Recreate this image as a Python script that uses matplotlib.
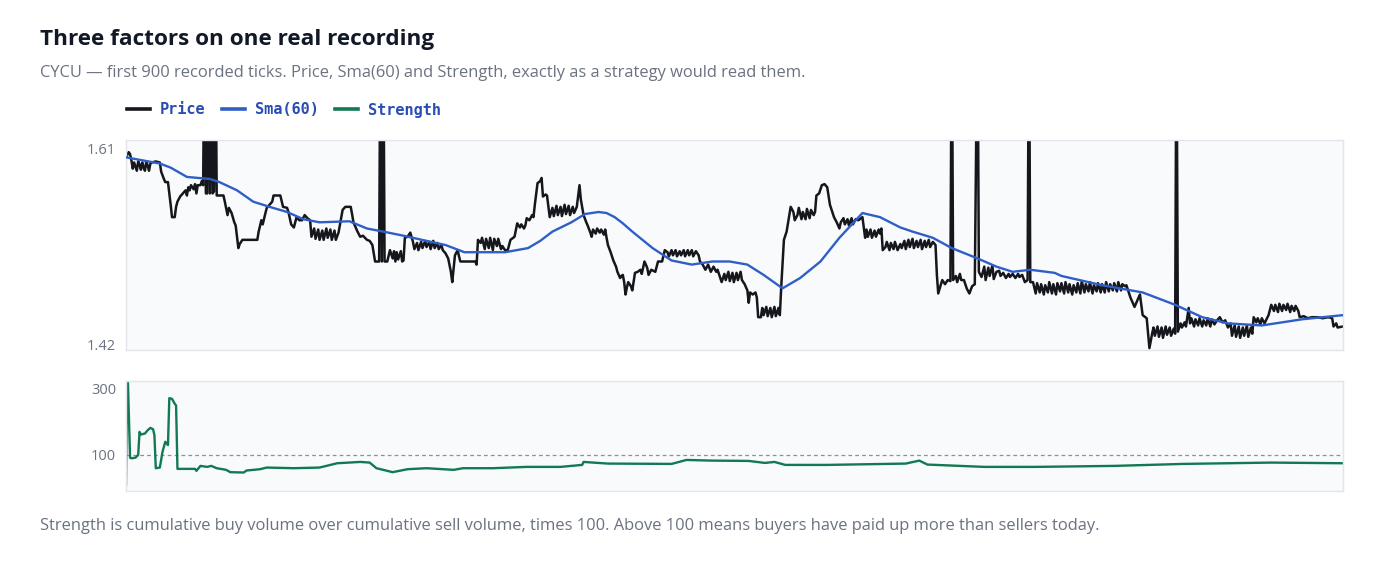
import matplotlib
matplotlib.use("Agg")
import matplotlib.pyplot as plt
from matplotlib.lines import Line2D

# price as (tick, value); 1.75 = spike that runs off the top
price_pts = [
    (0, 1.601), (2, 1.606), (3, 1.604), (4, 1.598), (5, 1.590), (6, 1.596), (7, 1.592), (8, 1.588),
    (9, 1.597), (10, 1.594), (11, 1.589), (12, 1.596), (13, 1.591), (14, 1.588), (15, 1.597),
    (16, 1.593), (17, 1.588), (18, 1.595), (19, 1.596), (22, 1.597), (25, 1.596),
    (26, 1.587), (28, 1.580), (29, 1.577), (31, 1.577), (33, 1.555), (34, 1.543), (36, 1.543),
    (37, 1.553), (38, 1.558), (40, 1.563), (42, 1.566), (44, 1.569), (45, 1.564), (46, 1.572),
    (47, 1.569), (48, 1.574), (50, 1.570), (51, 1.575), (52, 1.566), (53, 1.574), (55, 1.574),
    (56, 1.578), (57, 1.574),
    (58, 1.75), (59, 1.566), (60, 1.566), (61, 1.75), (62, 1.566), (63, 1.75), (64, 1.566),
    (65, 1.568), (66, 1.75), (67, 1.564), (70, 1.564), (72, 1.564),
    (73, 1.558), (75, 1.545), (76, 1.552), (78, 1.547), (80, 1.538), (81, 1.535), (83, 1.513),
    (84, 1.517), (86, 1.521), (90, 1.521), (95, 1.521), (97, 1.521), (98, 1.529), (100, 1.540),
    (101, 1.536), (103, 1.547), (104, 1.552), (106, 1.555), (108, 1.558), (109, 1.564), (114, 1.564),
    (116, 1.553), (119, 1.552), (120, 1.548), (121, 1.542), (122, 1.536), (124, 1.533), (126, 1.543),
    (128, 1.540), (130, 1.540), (132, 1.545), (134, 1.542), (136, 1.540), (137, 1.524),
    (139, 1.532), (140, 1.522), (142, 1.531), (143, 1.521), (145, 1.530), (146, 1.521), (148, 1.532),
    (149, 1.523), (151, 1.531), (152, 1.521), (154, 1.530), (155, 1.521), (157, 1.528),
    (160, 1.550), (162, 1.553), (164, 1.553), (166, 1.553), (167, 1.546), (168, 1.538), (170, 1.532),
    (171, 1.529), (173, 1.524), (175, 1.525), (178, 1.521), (180, 1.520), (182, 1.516), (184, 1.500),
    (186, 1.500), (187, 1.500), (188, 1.75), (189, 1.500), (190, 1.75), (191, 1.500), (193, 1.500),
    (195, 1.511), (196, 1.507), (197, 1.503), (198, 1.510), (199, 1.500), (200, 1.509), (201, 1.502),
    (203, 1.510), (204, 1.500), (205, 1.501), (206, 1.523), (208, 1.524), (210, 1.528), (212, 1.519),
    (213, 1.512), (215, 1.518), (216, 1.511), (218, 1.519), (219, 1.513), (221, 1.520), (222, 1.514),
    (224, 1.519), (225, 1.512), (227, 1.520), (228, 1.513), (230, 1.518), (231, 1.512), (233, 1.516),
    (234, 1.511), (236, 1.508), (238, 1.503), (240, 1.490), (241, 1.480), (243, 1.506), (245, 1.511),
    (246, 1.505), (247, 1.500), (258, 1.500), (259, 1.497), (260, 1.521), (262, 1.518), (263, 1.523),
    (265, 1.512), (266, 1.522), (268, 1.513), (269, 1.523), (271, 1.511), (272, 1.522), (274, 1.515),
    (275, 1.522), (277, 1.512), (278, 1.515), (280, 1.511), (282, 1.511), (284, 1.521), (287, 1.524),
    (289, 1.537), (291, 1.533), (292, 1.536), (294, 1.532), (295, 1.535), (296, 1.542), (298, 1.540),
    (300, 1.545), (301, 1.543), (302, 1.555), (304, 1.576), (306, 1.578), (307, 1.581), (308, 1.563),
    (310, 1.565), (311, 1.564), (313, 1.543), (315, 1.552), (316, 1.544), (318, 1.554), (319, 1.545),
    (321, 1.553), (322, 1.544), (324, 1.555), (325, 1.546), (327, 1.554), (328, 1.545), (330, 1.553),
    (331, 1.547), (333, 1.553), (335, 1.574), (336, 1.560), (338, 1.545), (340, 1.538), (341, 1.535),
    (343, 1.528), (344, 1.524), (345, 1.531), (347, 1.527), (348, 1.532), (350, 1.528), (351, 1.531),
    (353, 1.526), (354, 1.531), (355, 1.523), (356, 1.516), (358, 1.509), (360, 1.501), (362, 1.495),
    (363, 1.490), (365, 1.484), (366, 1.486), (367, 1.487), (368, 1.480), (369, 1.468), (370, 1.475),
    (371, 1.480), (373, 1.476), (374, 1.472), (376, 1.489), (378, 1.490), (380, 1.492), (381, 1.488),
    (383, 1.500), (385, 1.494), (386, 1.487), (388, 1.492), (391, 1.490), (393, 1.500), (396, 1.500),
    (398, 1.511), (400, 1.509), (401, 1.505), (403, 1.511), (404, 1.506), (406, 1.511), (407, 1.505),
    (409, 1.510), (410, 1.506), (412, 1.511), (413, 1.505), (415, 1.511), (416, 1.506), (418, 1.511),
    (419, 1.505), (421, 1.510), (423, 1.506), (424, 1.500), (426, 1.497), (428, 1.492), (430, 1.497),
    (432, 1.490), (434, 1.495), (436, 1.490), (437, 1.492), (439, 1.484), (440, 1.480), (442, 1.488),
    (443, 1.482), (445, 1.490), (446, 1.481), (448, 1.489), (449, 1.480), (451, 1.489), (452, 1.482),
    (454, 1.490), (455, 1.482), (457, 1.478), (459, 1.472), (460, 1.460), (461, 1.470), (463, 1.468),
    (465, 1.470), (466, 1.465), (467, 1.446), (469, 1.446), (470, 1.455), (471, 1.448), (473, 1.456),
    (474, 1.447), (476, 1.455), (477, 1.446), (479, 1.456), (480, 1.447), (482, 1.455), (483, 1.448),
    (484, 1.475), (486, 1.521), (488, 1.529), (490, 1.545), (491, 1.553), (493, 1.548), (494, 1.540),
    (496, 1.545), (497, 1.552), (499, 1.541), (500, 1.548), (502, 1.541), (503, 1.551), (505, 1.542),
    (506, 1.550), (508, 1.545), (509, 1.548), (510, 1.564), (512, 1.566), (514, 1.574), (516, 1.575),
    (518, 1.572), (520, 1.555), (523, 1.543), (525, 1.538), (527, 1.532), (528, 1.538), (530, 1.542),
    (531, 1.536), (533, 1.541), (534, 1.535), (536, 1.542), (537, 1.536), (539, 1.541), (541, 1.540),
    (544, 1.543), (546, 1.523), (547, 1.531), (548, 1.524), (550, 1.531), (551, 1.523), (553, 1.530),
    (554, 1.524), (556, 1.531), (557, 1.527), (558, 1.532), (559, 1.511), (561, 1.514), (562, 1.519),
    (564, 1.511), (565, 1.518), (567, 1.512), (568, 1.519), (570, 1.511), (572, 1.517), (573, 1.513),
    (575, 1.520), (576, 1.512), (578, 1.521), (579, 1.514), (581, 1.522), (582, 1.513), (584, 1.520),
    (585, 1.514), (587, 1.521), (588, 1.512), (590, 1.520), (591, 1.514), (593, 1.521), (594, 1.514),
    (596, 1.519), (598, 1.516), (599, 1.487), (600, 1.469), (602, 1.478), (603, 1.482), (605, 1.478),
    (607, 1.482), (609, 1.481), (610, 1.75), (611, 1.482), (613, 1.486), (614, 1.480), (616, 1.488),
    (617, 1.482), (619, 1.482), (621, 1.474), (623, 1.469), (625, 1.476), (627, 1.478), (629, 1.75),
    (630, 1.490), (632, 1.485), (634, 1.495), (635, 1.482), (637, 1.494), (638, 1.486), (640, 1.496),
    (641, 1.483), (643, 1.490), (645, 1.491), (646, 1.486), (648, 1.489), (650, 1.484), (652, 1.488),
    (653, 1.485), (655, 1.488), (657, 1.484), (659, 1.488), (660, 1.485), (662, 1.487), (664, 1.480),
    (666, 1.482), (667, 1.75), (668, 1.480), (670, 1.480),
    (672, 1.469), (673, 1.479), (675, 1.470), (676, 1.478), (678, 1.468), (679, 1.477), (681, 1.470),
    (682, 1.480), (684, 1.469), (685, 1.478), (687, 1.468), (688, 1.479), (690, 1.471), (691, 1.479),
    (693, 1.469), (694, 1.480), (696, 1.470), (697, 1.478), (699, 1.468), (700, 1.477), (702, 1.470),
    (703, 1.479), (705, 1.469), (706, 1.481), (708, 1.470), (709, 1.478), (711, 1.471), (712, 1.480),
    (714, 1.469), (715, 1.477), (717, 1.471), (718, 1.479), (720, 1.470), (721, 1.478), (723, 1.470),
    (724, 1.480), (726, 1.471), (727, 1.478), (729, 1.472), (730, 1.479), (732, 1.471), (733, 1.480),
    (735, 1.472), (736, 1.478), (738, 1.476), (739, 1.477), (742, 1.465), (745, 1.456), (747, 1.462),
    (749, 1.468), (751, 1.448), (754, 1.445), (756, 1.416), (758, 1.430), (759, 1.436), (760, 1.428),
    (762, 1.437), (763, 1.427), (765, 1.436), (766, 1.426), (768, 1.437), (769, 1.429), (771, 1.436),
    (772, 1.428), (774, 1.435), (775, 1.430), (776, 1.75), (777, 1.432), (779, 1.440), (780, 1.436),
    (782, 1.441), (783, 1.437), (785, 1.455), (786, 1.440), (787, 1.445), (789, 1.437), (790, 1.444),
    (792, 1.438), (793, 1.445), (795, 1.437), (796, 1.443), (798, 1.438), (799, 1.445), (801, 1.437),
    (802, 1.444), (804, 1.439), (806, 1.443), (808, 1.446), (810, 1.441), (812, 1.443), (814, 1.436),
    (816, 1.440), (817, 1.428), (819, 1.438), (820, 1.427), (822, 1.437), (823, 1.426), (825, 1.436),
    (826, 1.428), (828, 1.438), (829, 1.427), (831, 1.436), (832, 1.430), (833, 1.446), (835, 1.441),
    (836, 1.445), (838, 1.439), (839, 1.445), (841, 1.440), (844, 1.448), (846, 1.458), (848, 1.452),
    (849, 1.458), (851, 1.451), (852, 1.459), (854, 1.452), (855, 1.458), (857, 1.453), (858, 1.459),
    (860, 1.451), (861, 1.457), (863, 1.452), (864, 1.457), (866, 1.452), (867, 1.446), (870, 1.447),
    (873, 1.445), (876, 1.446), (880, 1.446), (884, 1.445), (888, 1.446), (891, 1.445), (892, 1.437),
    (894, 1.440), (895, 1.436), (899, 1.437),
]

sma_pts = [
    (0, 1.601), (25, 1.595), (33, 1.591), (45, 1.582), (62, 1.580), (69, 1.577), (82, 1.569),
    (94, 1.558), (106, 1.553), (119, 1.548), (131, 1.541), (143, 1.538), (165, 1.539), (178, 1.532),
    (190, 1.529), (205, 1.525), (222, 1.520), (236, 1.516), (250, 1.509), (280, 1.509), (297, 1.513),
    (306, 1.520), (315, 1.529), (329, 1.538), (339, 1.546), (349, 1.548), (355, 1.547), (361, 1.543),
    (367, 1.537), (374, 1.529), (389, 1.513), (403, 1.501), (418, 1.497), (433, 1.500), (446, 1.500),
    (459, 1.497), (471, 1.487), (485, 1.474), (498, 1.484), (513, 1.500), (527, 1.523), (544, 1.547),
    (557, 1.543), (572, 1.533), (581, 1.529), (596, 1.523), (610, 1.513), (629, 1.503), (643, 1.495),
    (655, 1.490), (668, 1.492), (686, 1.489), (691, 1.486), (721, 1.477), (751, 1.470), (775, 1.458),
    (795, 1.446), (814, 1.440), (839, 1.438), (869, 1.444), (899, 1.448),
]

strength_pts = [
    (0, 10), (1, 380), (3, 92), (4, 90), (7, 92), (9, 100), (10, 170), (11, 162), (14, 165),
    (16, 175), (18, 182), (20, 178), (21, 160), (22, 60), (25, 62), (27, 110), (29, 140), (31, 130),
    (32, 272), (34, 270), (36, 255), (37, 250), (38, 58), (51, 58), (52, 52), (55, 67), (60, 64),
    (63, 67), (67, 60), (74, 55), (77, 48), (87, 47), (89, 53), (99, 57), (104, 62), (124, 60),
    (143, 62), (148, 67), (156, 75), (173, 79), (180, 77), (185, 60), (197, 48), (208, 57), (222, 60),
    (242, 55), (249, 60), (271, 60), (296, 64), (321, 64), (337, 70), (338, 79), (356, 74), (403, 73),
    (414, 85), (433, 83), (460, 82), (472, 76), (479, 79), (487, 70), (518, 70), (576, 74), (586, 83),
    (592, 71), (634, 64), (672, 64), (730, 67), (781, 73), (846, 77), (899, 75),
]

price_ticks = [1.42, 1.61]
strength_ticks = [100, 300]

price_t, price_v = zip(*price_pts)
sma_t, sma_v = zip(*sma_pts)
str_t, str_v = zip(*strength_pts)

C_PRICE = '#15171c'
C_SMA = '#2f5fc6'
C_STR = '#117a52'
GREY = '#6b7280'
FACE = '#f8fafc'
EDGE = '#e2e5e9'

plt.rcParams['font.family'] = ['Open Sans', 'Noto Sans', 'DejaVu Sans']

W, H = 1400, 563
fig = plt.figure(figsize=(W / 100, H / 100), dpi=100)


def box(l, t, r, b):
    return [l / W, 1 - b / H, (r - l) / W, (b - t) / H]


def style(ax):
    ax.set_facecolor(FACE)
    for s in ax.spines.values():
        s.set_color(EDGE)
        s.set_linewidth(1)
    ax.set_xticks([])
    ax.tick_params(axis='y', length=0, pad=7, labelsize=10.5, labelcolor=GREY)
    ax.set_xlim(0, 899)


ax1 = fig.add_axes(box(126, 140, 1343, 350))
style(ax1)
ax1.plot(price_t, price_v, color=C_PRICE, lw=1.8, zorder=2)
ax1.plot(sma_t, sma_v, color=C_SMA, lw=1.7, zorder=3)
ax1.set_ylim(1.4142, 1.6178)
ax1.set_yticks(price_ticks)
ax1.set_yticklabels(['%.2f' % v for v in price_ticks])

ax2 = fig.add_axes(box(126, 381, 1343, 491))
style(ax2)
ax2.axhline(100, color='#8b9099', lw=0.9, ls=(0, (3, 2.5)), zorder=1)
ax2.plot(str_t, str_v, color=C_STR, lw=1.7, zorder=2)
ax2.set_ylim(-9, 324)
ax2.set_yticks(strength_ticks)
ax2.set_yticklabels([str(v) for v in strength_ticks])

fig.text(40 / W, 1 - 40 / H, 'Three factors on one real recording', fontsize=16.2,
         fontweight='bold', color='#111827', va='center', ha='left')
fig.text(40 / W, 1 - 73 / H,
         'CYCU \u2014 first 900 recorded ticks. Price, Sma(60) and Strength, exactly as a strategy would read them.',
         fontsize=11.9, color=GREY, va='center', ha='left')
fig.text(40 / W, 1 - 526 / H,
         'Strength is cumulative buy volume over cumulative sell volume, times 100. '
         'Above 100 means buyers have paid up more than sellers today.',
         fontsize=11.9, color=GREY, va='center', ha='left')

handles = [Line2D([], [], color=c, lw=2.6) for c in (C_PRICE, C_SMA, C_STR)]
fig.legend(handles, ['Price', 'Sma(60)', 'Strength'], loc='center left',
           bbox_to_anchor=(119 / W, 1 - 110 / H), ncol=3, frameon=False, borderpad=0,
           handlelength=1.5, handletextpad=0.65, columnspacing=1.1, labelcolor='#2a4db3',
           prop={'family': 'DejaVu Sans Mono', 'weight': 'bold', 'size': 11})

fig.savefig('out.png', dpi=100, facecolor='white')
